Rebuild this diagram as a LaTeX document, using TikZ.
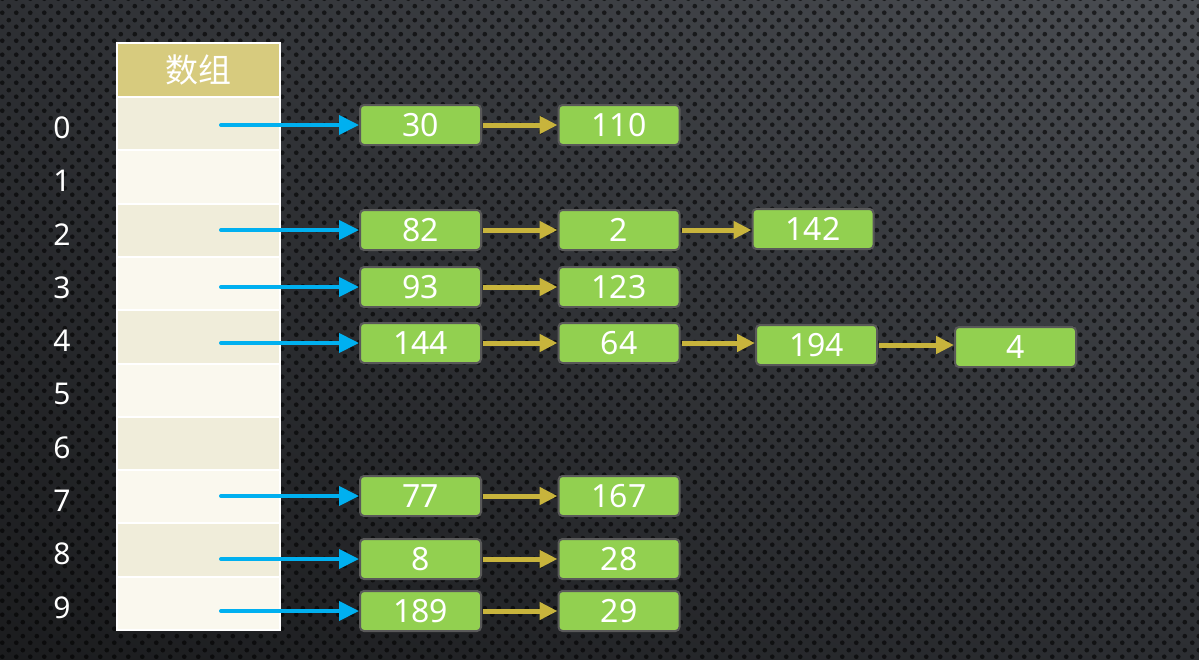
\documentclass[tikz,border=0pt]{standalone}
\usepackage{fontspec}
\setmainfont{Noto Sans}
\newfontfamily\cjkfont{Noto Sans CJK SC}
\usetikzlibrary{arrows.meta,patterns.meta,shadings}

\definecolor{bgtl}{HTML}{2E3034}
\definecolor{bgtr}{HTML}{4A4D52}
\definecolor{bgbl}{HTML}{1B1C1E}
\definecolor{bgbr}{HTML}{2C2E32}
\definecolor{headgold}{HTML}{D7CB7E}
\definecolor{slotdark}{HTML}{F0EDDA}
\definecolor{slotlight}{HTML}{FAF8EE}
\definecolor{boxgreen}{HTML}{92D050}
\definecolor{ptrblue}{HTML}{00B0F0}
\definecolor{linkgold}{HTML}{C8B43C}

\tikzdeclarepattern{
  name=perfdots,
  type=uncolored,
  bounding box={(0,0) and (14pt,14pt)},
  tile size={(14pt,14pt)},
  code={
    \fill (3.5pt,3.5pt) circle (2.5pt);
    \fill (10.5pt,10.5pt) circle (2.5pt);
  }
}

\tikzset{
  headbox/.style={fill=headgold, draw=white, line width=2pt, minimum width=163pt,
    minimum height=54pt, text=white, font=\cjkfont\fontsize{33}{38}\selectfont},
  slot/.style={draw=white, line width=2pt, minimum width=163pt, minimum height=53.3pt},
  idx/.style={text=white, font=\fontsize{30}{34}\selectfont},
  cell/.style={fill=boxgreen, draw=black!65, line width=2pt, rounded corners=4pt,
    minimum width=121pt, minimum height=40pt, inner sep=0pt, text=white,
    font=\fontsize{32}{36}\selectfont},
  ptr/.style={ptrblue, line width=4pt, line cap=round, -{Triangle[length=20pt,width=19pt]}},
  link/.style={linkgold, line width=5pt, shorten <=1pt, -{Triangle[length=18pt,width=17pt]}}
}

\begin{document}
\begin{tikzpicture}[x=1pt,y=-1pt]
\useasboundingbox (0,0) rectangle (1199,659);

% Background
\shade[upper left=bgtl, upper right=bgtr, lower left=bgbl, lower right=bgbr]
  (0,0) rectangle (1199,659);
\fill[pattern=perfdots, pattern color=black, fill opacity=0.6] (0,0) rectangle (1199,659);

% Array
\node[headbox] (head) at (198.5,70) {数组};
\foreach \i in {0,...,9}{
  \ifodd\i \def\slotfill{slotlight}\else \def\slotfill{slotdark}\fi
  \node[slot, fill=\slotfill] (s\i) at (198.5,123.65+53.3*\i) {};
  \node[idx] (i\i) at (62,127.65+53.3*\i) {\i};
}
\draw[white, line width=2pt] (117,43) rectangle (280,630);

% Linked nodes
\foreach \n/\x/\y/\v in {b0/420.5/125/30, c0/619/125/110,
    b2/420.5/230/82, c2/619/230/2, d2/813/229/142,
    b3/420.5/287/93, c3/619/287/123,
    b4/420.5/343/144, c4/619/343/64, d4/816.5/345/194, e4/1015.5/347/4,
    b7/420.5/496/77, c7/619/496/167,
    b8/420.5/559/8, c8/619/559/28,
    b9/420.5/611/189, c9/619/611/29}
  \node[cell] (\n) at (\x,\y) {\v};

% Pointers from the array
\foreach \r in {0,2,3,4,7,8,9}
  \draw[ptr] ([xshift=-138pt]b\r.west) -- (b\r.west);

% Links between nodes
\foreach \a/\b in {b0/c0, b2/c2, c2/d2, b3/c3, b4/c4, c4/d4, d4/e4, b7/c7, b8/c8, b9/c9}
  \draw[link] (\a.east) -- (\a.east -| \b.west);
\end{tikzpicture}
\end{document}
